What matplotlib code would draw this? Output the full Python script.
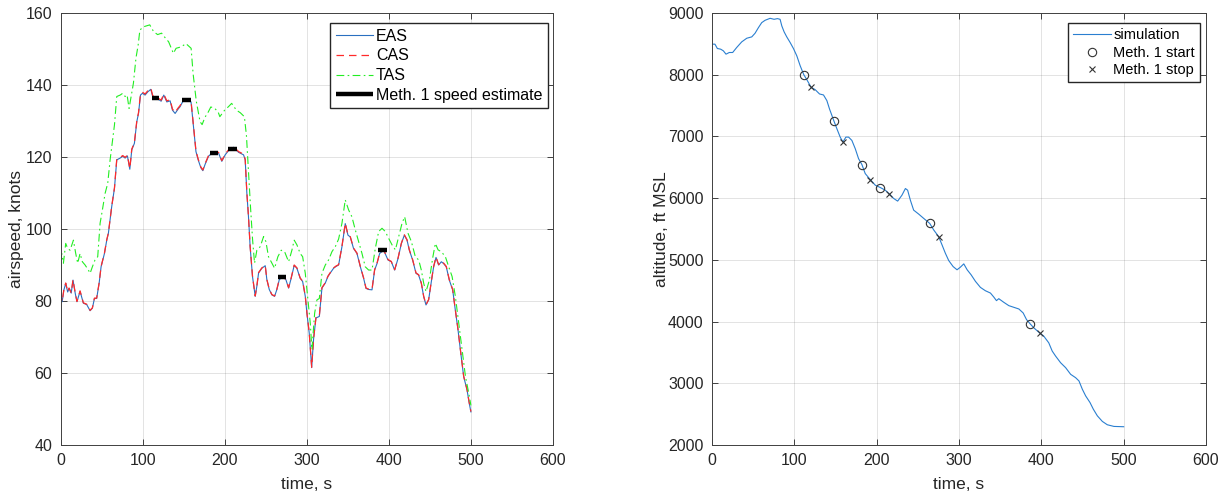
import matplotlib
matplotlib.use('Agg')
import matplotlib.pyplot as plt

plt.rcParams['font.family'] = ['Liberation Sans', 'DejaVu Sans']

# airspeed readings, knots (EAS and CAS share the same time samples)
t_eas = [0, 2, 4, 6.3, 8.7, 10.4, 13, 15.2, 18, 20,
         23.8, 27.8, 31.9, 36, 38.8, 41.3, 44, 47, 49.4, 53.5,
         56.3, 58.3, 62.4, 65.7, 68.5, 72.6, 75.8, 78.7, 81.5, 84.4,
         86.8, 90, 92.9, 95, 97.4, 99.8, 103, 106.3, 110, 112.4,
         117.3, 122.6, 125.8, 129.5, 133.5, 136.4, 139.6, 142.9, 145.7, 149.8,
         155.9, 159, 162, 165, 168, 171, 173.4, 176.2, 180.3, 184.4,
         188, 192.5, 196.5, 200.6, 204.7, 210.7, 216.9, 223, 225, 227,
         229, 231, 233.9, 237.2, 239.2, 241.3, 245.3, 249.4, 251.4, 254.3,
         257.5, 260.8, 263.6, 266.5, 270.5, 274.6, 277.9, 281, 284.7, 288,
         292, 295, 298.2, 300.2, 303, 306, 308.3, 311.2, 315.3, 318.5,
         322.6, 325.8, 328.7, 332.7, 335.6, 338.8, 342.9, 346.9, 350.2, 353,
         357, 361.2, 365.3, 369.3, 372.2, 375.4, 379.5, 382.7, 385.6, 388.8,
         393.7, 399, 403, 407.1, 411.2, 415.2, 418.9, 422.2, 425, 429,
         433.1, 436.3, 439.6, 442.5, 445.3, 448.5, 451.8, 454.6, 457.5, 460.7,
         464, 466.8, 470, 473.7, 477.8, 481, 484.3, 487.2, 491.2, 495.3,
         498, 500]
eas = [82.1, 79.8, 83.0, 84.9, 82.5, 83.5, 82.2, 85.8, 82.0, 79.8,
       82.7, 79.4, 79.0, 77.3, 78.0, 80.7, 80.7, 84.9, 89.5, 93.2,
       96.9, 98.8, 106.3, 111.3, 119.2, 119.7, 120.2, 119.7, 120.3, 116.6,
       122.0, 123.8, 129.8, 132.1, 137.2, 137.7, 137.2, 138.1, 138.8, 136.7,
       136.3, 135.5, 137.2, 135.3, 135.6, 133.0, 132.1, 133.2, 134.0, 135.8,
       135.8, 135.3, 128.4, 121.5, 119.0, 117.0, 116.2, 118.0, 120.2, 121.1,
       121.1, 121.1, 118.8, 120.6, 121.8, 122.7, 121.3, 120.6, 119.2, 110.0,
       103.4, 95.1, 86.8, 81.3, 84.1, 87.8, 89.1, 89.8, 85.9, 83.2,
       81.7, 81.3, 83.2, 85.9, 86.8, 85.9, 83.6, 86.3, 89.9, 89.1,
       86.3, 85.4, 81.3, 76.6, 71.1, 61.5, 69.4, 75.3, 75.7, 83.6,
       85.0, 86.8, 87.8, 89.1, 89.6, 90.0, 95.1, 101.5, 98.3, 97.8,
       94.6, 93.2, 89.5, 86.3, 83.5, 83.2, 83.1, 88.6, 90.4, 93.2,
       94.1, 91.4, 90.9, 88.6, 91.8, 95.9, 98.3, 96.9, 94.1, 91.4,
       87.7, 87.2, 84.9, 81.2, 78.9, 80.3, 85.4, 89.5, 92.1, 90.0,
       90.9, 90.4, 89.5, 85.8, 83.1, 77.5, 72.0, 66.4, 59.0, 55.3,
       51.6, 49.2]
cas = [82.2, 79.9, 83.1, 85.0, 82.6, 83.6, 82.3, 85.9, 82.1, 79.9,
       82.8, 79.5, 79.1, 77.4, 78.1, 80.8, 80.8, 85.0, 89.6, 93.3,
       97.0, 98.9, 106.4, 111.4, 119.4, 119.9, 120.4, 119.9, 120.5, 116.8,
       122.2, 124.0, 130.0, 132.3, 137.5, 138.0, 137.5, 138.4, 139.1, 137.0,
       136.6, 135.8, 137.5, 135.6, 135.9, 133.3, 132.4, 133.5, 134.3, 136.1,
       136.1, 135.6, 128.6, 121.7, 119.2, 117.2, 116.4, 118.2, 120.4, 121.3,
       121.3, 121.3, 119.0, 120.8, 122.0, 122.9, 121.5, 120.8, 119.4, 110.2,
       103.5, 95.2, 86.9, 81.4, 84.2, 87.9, 89.2, 89.9, 86.0, 83.3,
       81.8, 81.4, 83.3, 86.0, 86.9, 86.0, 83.7, 86.4, 90.0, 89.2,
       86.4, 85.5, 81.4, 76.7, 71.2, 61.6, 69.5, 75.4, 75.8, 83.7,
       85.1, 86.9, 87.9, 89.2, 89.7, 90.1, 95.2, 101.6, 98.4, 97.9,
       94.7, 93.3, 89.6, 86.4, 83.6, 83.3, 83.2, 88.7, 90.5, 93.3,
       94.2, 91.5, 91.0, 88.7, 91.9, 96.0, 98.4, 97.0, 94.2, 91.5,
       87.8, 87.3, 85.0, 81.3, 79.0, 80.4, 85.5, 89.6, 92.2, 90.1,
       91.0, 90.5, 89.6, 85.9, 83.2, 77.6, 72.1, 66.5, 59.1, 55.4,
       51.7, 49.3]

t_tas = [0, 1.4, 3.5, 6.3, 8.7, 11.6, 15.7, 18.5, 20.9, 23.8,
         26.6, 29.9, 33.9, 36, 38.8, 42, 45.3, 48.2, 51, 54.3,
         57.5, 60.4, 62.4, 65.7, 68.5, 72.6, 75.8, 78.7, 81.1, 83.5,
         86, 88.8, 91.9, 94.5, 96.7, 101.5, 108.7, 113.5, 118.3, 123.1,
         127.9, 131.7, 137.5, 140.8, 147.1, 152.8, 159.1, 161.5, 165.4, 170,
         172.5, 175.9, 180, 183.1, 187.9, 192, 194.1, 199.9, 204.7, 208.5,
         214.3, 219, 224, 226.5, 229, 231.5, 234, 236.4, 239.2, 243.3,
         247.4, 250.2, 253.4, 257.5, 260.8, 264.8, 268.9, 273, 277.9, 281.9,
         284.7, 288, 292, 295, 298.2, 301.4, 304.3, 306.3, 309.6, 312.4,
         315.3, 318.5, 322.6, 326.6, 330.7, 334.8, 338.8, 342.9, 346.9, 351,
         355, 359.1, 363.2, 367.3, 371.3, 375.4, 379.5, 383.5, 387.6, 391.7,
         395.7, 399.8, 403.9, 408, 412, 416.1, 419.3, 423.4, 427.5, 432.3,
         436.4, 439.6, 442.5, 445.3, 449.4, 453.4, 456.7, 460, 464, 468.9,
         473, 477.1, 481.1, 485.2, 489.3, 493.4, 497.4, 500]
tas = [91.4, 93.2, 90.5, 96.0, 94.6, 94.1, 96.9, 93.2, 90.5, 93.2,
       90.9, 90.0, 88.6, 87.7, 89.5, 91.4, 92.3, 101.6, 105.3, 109.9,
       112.7, 119.2, 122.9, 128.9, 136.8, 137.2, 137.7, 136.8, 137.2, 133.5,
       136.8, 140.5, 147.5, 151.0, 155.3, 156.2, 156.7, 154.8, 154.0, 154.4,
       153.0, 152.0, 148.8, 150.2, 150.6, 151.5, 150.2, 143.2, 135.5, 129.8,
       129.0, 131.0, 132.5, 133.9, 133.5, 132.5, 131.2, 133.0, 134.0, 134.9,
       133.0, 132.3, 131.2, 126.0, 116.0, 106.0, 97.0, 90.5, 94.1, 95.1,
       97.9, 96.5, 92.3, 90.5, 89.1, 92.3, 94.1, 93.7, 90.9, 94.1,
       96.9, 95.6, 93.2, 92.3, 87.7, 80.3, 73.8, 66.5, 76.6, 80.3,
       80.7, 87.7, 90.0, 91.4, 93.7, 95.1, 97.2, 101.6, 108.1, 105.3,
       103.4, 99.8, 96.5, 93.2, 89.5, 88.6, 88.6, 94.6, 99.3, 100.2,
       99.3, 97.4, 95.6, 94.2, 97.9, 101.6, 103.4, 98.8, 96.5, 92.3,
       91.4, 88.6, 84.9, 82.6, 85.8, 91.9, 96.0, 94.2, 93.7, 92.3,
       89.5, 86.8, 81.2, 73.8, 66.4, 59.0, 54.4, 51.0]

# altitude readings, ft MSL
t_alt = [0, 3.6, 6.5, 10.5, 13.8, 17, 21, 25.1, 30, 36.1,
         42.2, 48.3, 52.3, 56.4, 60.4, 64.5, 70.6, 75.4, 79.5, 82.7,
         84.8, 87.6, 90.8, 94.9, 98.9, 103, 107.1, 111.5, 115.2, 120.4,
         125.3, 130.6, 135.4, 139.5, 142.7, 148, 151.7, 155.7, 159, 162.6,
         165.9, 169.9, 174, 178, 182.1, 186.1, 192.2, 198.3, 204.4, 210.5,
         214.9, 220.6, 225.5, 230.7, 234.9, 237.6, 240.9, 244.9, 251, 257.1,
         264.4, 269.3, 275.3, 279.4, 283.4, 287.5, 292.8, 297.6, 301.7, 305.8,
         309.9, 314.7, 320, 326, 332, 338.2, 342.2, 345.5, 348.3, 354.4,
         360.5, 366.6, 372.7, 377.9, 382, 386.5, 390.9, 397.8, 403, 409,
         413.2, 417.3, 423.4, 429.5, 435.6, 441.6, 445.7, 449.8, 453.8, 459.1,
         463.1, 468, 474.1, 480.1, 488.2, 500]
alt = [8495, 8495, 8425, 8414, 8387, 8333, 8360, 8360, 8441, 8532,
       8591, 8613, 8672, 8763, 8844, 8882, 8914, 8898, 8909, 8898,
       8790, 8694, 8613, 8522, 8425, 8306, 8145, 8000, 7919, 7796,
       7758, 7688, 7672, 7581, 7446, 7253, 7124, 6989, 6909, 6989,
       6989, 6935, 6801, 6640, 6543, 6398, 6301, 6210, 6172, 6129,
       6075, 5995, 5952, 6048, 6156, 6129, 5968, 5806, 5742, 5672,
       5591, 5484, 5376, 5242, 5108, 4989, 4892, 4839, 4882, 4935,
       4839, 4758, 4651, 4554, 4500, 4462, 4398, 4339, 4371, 4312,
       4258, 4231, 4204, 4140, 4032, 3962, 3898, 3817, 3763, 3656,
       3522, 3441, 3333, 3253, 3145, 3091, 3038, 2903, 2796, 2688,
       2581, 2473, 2382, 2328, 2301, 2296]

# method 1 windows
m1_start_t = [111.5, 148, 182.1, 204.4, 264.4, 386.5]
m1_start_alt = [8000, 7253, 6543, 6172, 5591, 3962]
m1_stop_t = [120.4, 159, 192.2, 214.9, 275.3, 397.8]
m1_stop_alt = [7796, 6909, 6301, 6075, 5376, 3817]
m1_speed = [136.3, 135.7, 121.1, 122.3, 86.7, 94.1]

text_col = '#262626'
fig = plt.figure(figsize=(12.28, 5.0), dpi=100)
ax1 = fig.add_axes([0.0493, 0.11, 0.401, 0.864])
ax2 = fig.add_axes([0.5798, 0.11, 0.4023, 0.864])

# airspeed plot
ax1.plot(t_eas, eas, color='#2a6fc0', lw=0.8, label='EAS')
ax1.plot(t_eas, cas, color='#ff2a2a', lw=0.9, dashes=(6, 4), label='CAS')
ax1.plot(t_tas, tas, color='#22ee22', lw=0.8, dashes=(7, 3, 1.5, 3), label='TAS')
for i in range(len(m1_speed)):
    ax1.plot([m1_start_t[i], m1_stop_t[i]], [m1_speed[i], m1_speed[i]], color='black',
             lw=3.2, solid_capstyle='butt', label='Meth. 1 speed estimate' if i == 0 else None)
ax1.set_xlim(0, 600)
ax1.set_ylim(40, 160)
ax1.set_xticks(range(0, 601, 100))
ax1.set_yticks(range(40, 161, 20))
ax1.set_xlabel('time, s', fontsize=12.5, color=text_col, labelpad=6)
ax1.set_ylabel('airspeed, knots', fontsize=12.5, color=text_col, labelpad=1)
ax1.legend(loc='upper right', bbox_to_anchor=(0.99, 0.977), borderaxespad=0, fontsize=11.5,
           fancybox=False, edgecolor=text_col, framealpha=1, handlelength=2.3,
           handletextpad=0.2, borderpad=0.35, labelspacing=0.3)

# altitude plot
ax2.plot(t_alt, alt, color='#2a7fd0', lw=0.8, label='simulation')
ax2.plot(m1_start_t, m1_start_alt, 'o', mfc='none', mec='#333333', ms=6, mew=0.8,
         label='Meth. 1 start')
ax2.plot(m1_stop_t, m1_stop_alt, 'x', color='#333333', ms=4.5, mew=0.8, label='Meth. 1 stop')
ax2.set_xlim(0, 600)
ax2.set_ylim(2000, 9000)
ax2.set_xticks(range(0, 601, 100))
ax2.set_yticks(range(2000, 9001, 1000))
ax2.set_xlabel('time, s', fontsize=12.5, color=text_col, labelpad=6)
ax2.set_ylabel('altitude, ft MSL', fontsize=12.5, color=text_col, labelpad=-1)
ax2.legend(loc='upper right', bbox_to_anchor=(0.988, 0.977), borderaxespad=0, fontsize=10.5,
           fancybox=False, edgecolor=text_col, framealpha=1, handlelength=2.6,
           handletextpad=0.15, borderpad=0.35, labelspacing=0.25)

for ax in (ax1, ax2):
    ax.grid(True, color=text_col, alpha=0.15, lw=0.6)
    ax.set_axisbelow(True)
    ax.tick_params(direction='in', top=True, right=True, length=4, width=0.6,
                   color=text_col, labelcolor=text_col, labelsize=11.5, pad=6)
    for s in ax.spines.values():
        s.set_color('#404040')
        s.set_linewidth(0.7)

fig.savefig('out.png', dpi=100)
